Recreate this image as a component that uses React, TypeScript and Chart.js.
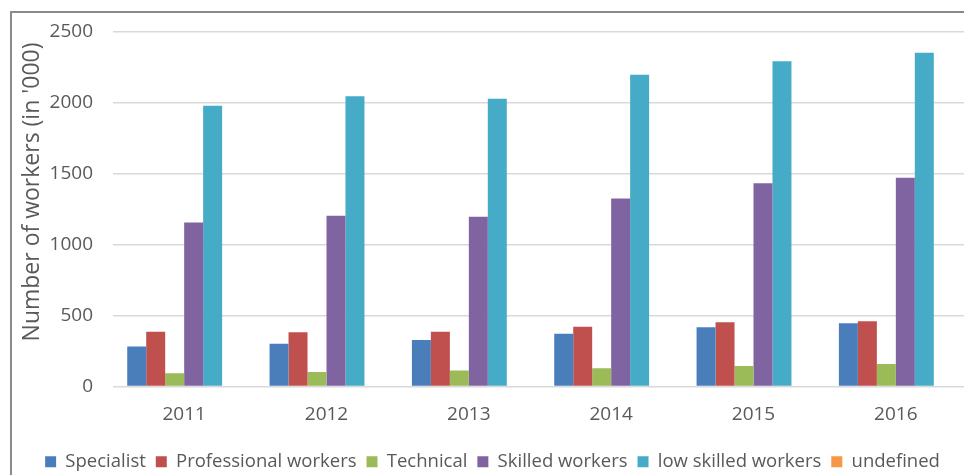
import { useEffect, useRef } from "react";
import { Chart, registerables } from "chart.js";

Chart.register(...registerables);

const categories = ["2011", "2012", "2013", "2014", "2015", "2016"];
const specialist = [282, 301, 328, 372, 417, 445];
const professional = [386, 382, 386, 421, 452, 459];
const technical = [94, 102, 112, 129, 145, 159];
const skilled = [1155, 1202, 1195, 1324, 1431, 1469];
const lowSkilled = [1976, 2044, 2025, 2194, 2290, 2350];
const undefinedSeries: (number | null)[] = [null, null, null, null, null, null];
const seriesNames = [
  "Specialist",
  "Professional workers",
  "Technical",
  "Skilled workers",
  "low skilled workers",
  "undefined",
];
const seriesColors = ["#4a7ebb", "#c0504d", "#9bbb59", "#8064a2", "#45abc6", "#f79646"];
const yMin = 0;
const yMax = 2500;
const yStep = 500;
const yTitle = "Number of workers (in '000)";

const FONT = "'Open Sans', sans-serif";
const TEXT = "#595959";

const yTitlePlugin = {
  id: "yTitleCustom",
  afterDraw(chart: any) {
    const { ctx, chartArea } = chart;
    ctx.save();
    ctx.translate(chartArea.left - 81, (chartArea.top + chartArea.bottom) / 2 - 17);
    ctx.rotate(-Math.PI / 2);
    ctx.font = `23px ${FONT}`;
    ctx.fillStyle = TEXT;
    ctx.textAlign = "center";
    ctx.textBaseline = "middle";
    ctx.fillText(yTitle, 0, 0);
    ctx.restore();
  },
};

export default function App() {
  const ref = useRef<HTMLCanvasElement>(null);
  useEffect(() => {
    if (!ref.current) return;
    const data = [specialist, professional, technical, skilled, lowSkilled, undefinedSeries];
    const chart = new Chart(ref.current, {
      type: "bar",
      data: {
        labels: categories,
        datasets: data.map((d, i) => ({
          label: seriesNames[i],
          data: d,
          backgroundColor: seriesColors[i],
          borderWidth: 0,
          barPercentage: 1,
          categoryPercentage: 0.8,
        })),
      },
      options: {
        animation: false,
        responsive: false,
        devicePixelRatio: 1,
        layout: { padding: { top: 29, left: 18, right: 8, bottom: 0 } },
        plugins: {
          tooltip: { enabled: false },
          legend: {
            position: "bottom",
            labels: {
              boxWidth: 11,
              boxHeight: 11,
              padding: 10,
              color: TEXT,
              font: { family: FONT, size: 18.5 },
            },
          },
        },
        scales: {
          x: {
            afterFit: (scale: any) => {
              scale.height = 56;
            },
            grid: { display: false },
            border: { display: false },
            ticks: { color: TEXT, font: { family: FONT, size: 19 }, padding: 9 },
          },
          y: {
            min: yMin,
            max: yMax,
            afterFit: (scale: any) => {
              scale.width = 95;
            },
            ticks: {
              stepSize: yStep,
              color: TEXT,
              padding: 20,
              font: { family: FONT, size: 19 },
              callback: (v: any) => String(v),
            },
            grid: { color: "#d9d9d9", lineWidth: 1.5, drawTicks: false },
            border: { display: false },
          },
        },
      },
      plugins: [yTitlePlugin],
    });
    return () => chart.destroy();
  }, []);

  return (
    <div
      style={{
        position: "fixed",
        left: 0,
        top: 0,
        width: 964,
        height: 475,
        overflow: "hidden",
        background: "#fff",
      }}
    >
      <canvas ref={ref} width={975} height={481} style={{ display: "block" }} />
      <div
        style={{
          position: "absolute",
          left: 10,
          top: 11,
          right: -5,
          bottom: -5,
          borderTop: "2px solid #8a8a8a",
          borderLeft: "2px solid #8a8a8a",
          pointerEvents: "none",
        }}
      />
    </div>
  );
}
